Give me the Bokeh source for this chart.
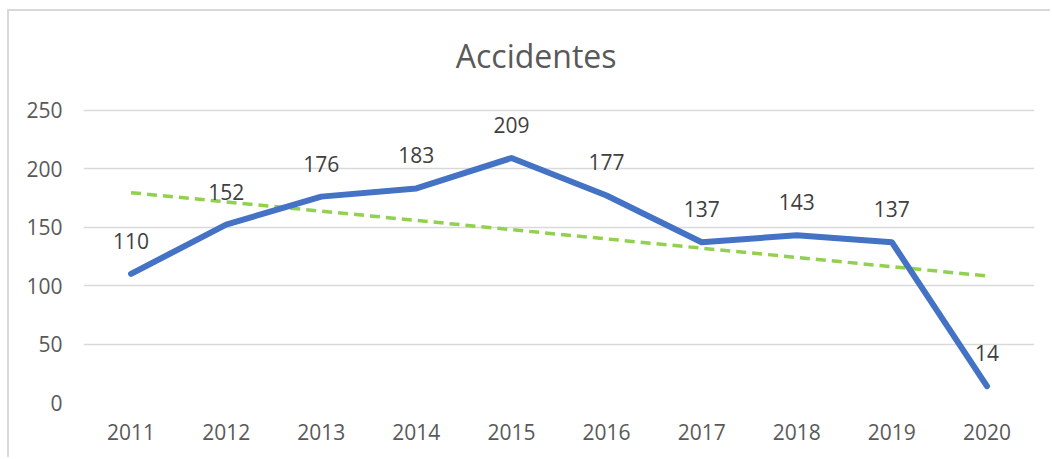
from bokeh.plotting import figure
from bokeh.models import ColumnDataSource, FixedTicker, Range1d, LabelSet, Label
from bokeh.core.properties import value
from bokeh.embed import file_html
from bokeh.resources import INLINE

# ---- data ----
years = [2011, 2012, 2013, 2014, 2015, 2016, 2017, 2018, 2019, 2020]
accidentes = [110, 152, 176, 183, 209, 177, 137, 143, 137, 14]
trend_years = [2011, 2020]
trend_values = [179.4, 108.2]
y_ticks = [0, 50, 100, 150, 200, 250]
title_text = "Accidentes"

FONT = "Open Sans"

src = ColumnDataSource(dict(x=years, y=accidentes, lbl=[str(v) for v in accidentes]))

p = figure(
    width=1043, height=448,
    x_range=Range1d(min(years) - 0.5, max(years) + 0.5),
    y_range=Range1d(0, 325.7),
    output_backend="svg", toolbar_location=None,
    min_border_left=74, min_border_right=18, min_border_top=10, min_border_bottom=57,
)
p.styles = {"margin-left": "7px", "margin-top": "9px",
            "border-left": "2px solid #d9d9d9", "border-top": "2px solid #d9d9d9"}
p.outline_line_color = None
p.background_fill_color = "white"
p.border_fill_color = "white"

# axes
p.xaxis.ticker = FixedTicker(ticks=years)
p.xaxis.major_label_overrides = {y: str(y) for y in years}
p.yaxis.ticker = FixedTicker(ticks=y_ticks)
for ax in (p.xaxis, p.yaxis):
    ax.axis_line_color = None
    ax.major_tick_line_color = None
    ax.minor_tick_line_color = None
    ax.major_tick_in = 0
    ax.major_tick_out = 0
    ax.major_label_text_font = FONT
    ax.major_label_text_font_size = "21px"
    ax.major_label_text_color = "#595959"
p.yaxis.major_label_standoff = 21
p.xaxis.major_label_standoff = 21

p.xgrid.grid_line_color = None
p.ygrid.ticker = FixedTicker(ticks=y_ticks)
p.ygrid.grid_line_color = "#d9d9d9"
p.ygrid.grid_line_width = 1.5

# trend line
p.line(trend_years, trend_values, line_color="#92d050", line_width=3.5, line_dash="10 6")

# main line
p.line("x", "y", source=src, line_color="#4472c4", line_width=6,
       line_cap="round", line_join="round")

# data labels
labels = LabelSet(x="x", y="y", text="lbl", source=src, y_offset=33,
                  text_align="center", text_baseline="middle",
                  text_font=value(FONT), text_font_size="21px", text_color="#404040")
p.add_layout(labels)

# title
p.add_layout(Label(x=2015.26, y=296.7, text=title_text, text_align="center",
                   text_baseline="middle", text_font=FONT,
                   text_font_size="32px", text_color="#595959"))

open("out.html", "w").write(file_html(p, INLINE))
